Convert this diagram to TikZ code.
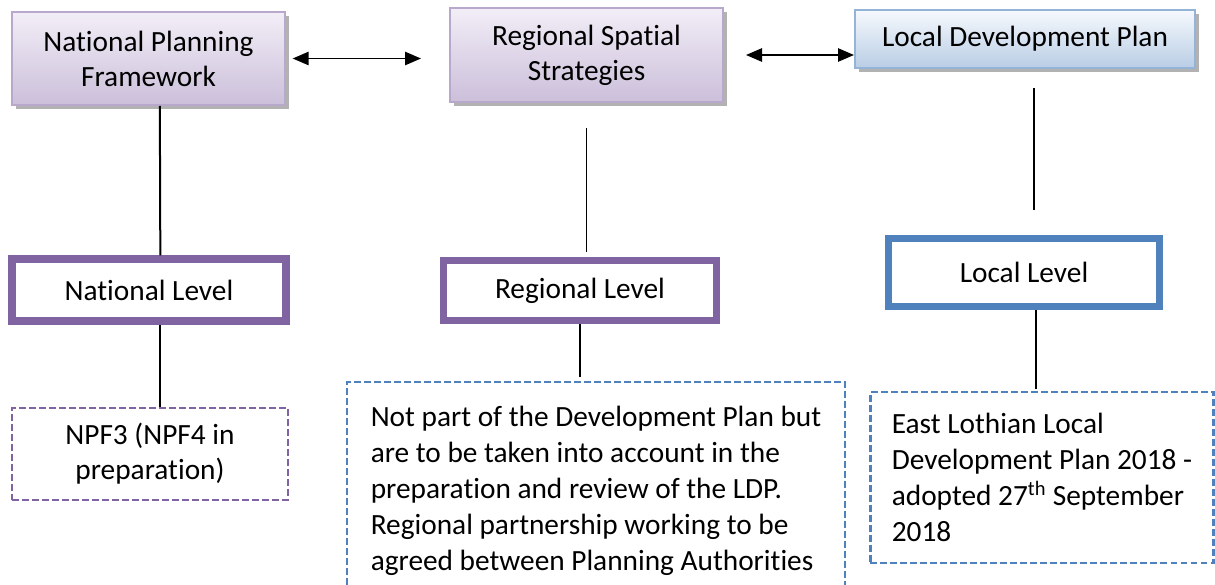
\documentclass[tikz,border=0pt]{standalone}
\usepackage{fontspec}
\setmainfont{Carlito}[Ligatures={CommonOff}]
\usetikzlibrary{arrows.meta,shadows}

\definecolor{lvpurple}{RGB}{128,100,162}
\definecolor{lvblue}{RGB}{79,129,189}
\definecolor{pbdraw}{RGB}{184,168,204}
\definecolor{pbtop}{RGB}{242,238,247}
\definecolor{pbbottom}{RGB}{203,191,218}
\definecolor{bbdraw}{RGB}{149,179,215}
\definecolor{bbtop}{RGB}{246,249,253}
\definecolor{bbbottom}{RGB}{185,205,229}

\tikzset{
  plantext/.style={font=\fontsize{22}{26.25}\selectfont},
  planbox/.style={plantext, draw=pbdraw, line width=1.5pt, top color=pbtop, bottom color=pbbottom,
    drop shadow={shadow xshift=3pt, shadow yshift=-3pt, fill=black!30, opacity=1}, align=center, inner sep=0pt},
  ldpbox/.style={planbox, draw=bbdraw, top color=bbtop, bottom color=bbbottom},
  levelbox/.style={plantext, draw=#1, line width=5.5pt, fill=white, inner sep=0pt},
  notebox/.style={plantext, draw=#1, line width=2pt, dash pattern=on 5pt off 2.5pt, fill=white, align=left, inner xsep=16pt},
  planarrow/.style={<->, >={Triangle[length=12pt,width=10pt]}, line width=1.2pt},
}

\begin{document}
\begin{tikzpicture}[x=0.75pt,y=0.75pt,yscale=-1,xscale=1]
\useasboundingbox (0,0) rectangle (1215,585);
\clip (0,0) rectangle (1215,585);
% Plan boxes
\node [planbox, minimum width=204.75pt, minimum height=69.75pt] (npf) at (148.5,58.5) {National Planning\\Framework};
\node [planbox, minimum width=204.75pt, minimum height=70.5pt] (rss) at (586.5,55) {Regional Spatial\\Strategies};
\node [ldpbox, minimum width=255pt, minimum height=43.5pt] (ldp) at (1025,39) {Local Development Plan};
% Level boxes
\node [levelbox=lvpurple, minimum width=205.5pt, minimum height=46.5pt] (natlev) at (149,290) {National Level};
\node [levelbox=lvpurple, minimum width=204.75pt, minimum height=45pt] (reglev) at (580,290.5) {Regional Level};
\node [levelbox=lvblue, minimum width=203.25pt, minimum height=51pt] (loclev) at (1024,272.5) {Local Level};
% Note boxes
\node [notebox=lvpurple, align=center, minimum width=207pt, minimum height=69pt] (npfnote) at (150,454) {NPF3 (NPF4 in\\preparation)};
\node [notebox=lvblue, minimum width=373.5pt, minimum height=163.5pt, font=\fontsize{22}{27}\selectfont] (regnote) at (596,491)
  {Not part of the Development Plan but\\are to be taken into account in the\\preparation and review of the LDP.\\Regional partnership working to be\\agreed between Planning Authorities};
\node [notebox=lvblue, minimum width=256.5pt, minimum height=128.25pt, font=\fontsize{22}{27}\selectfont] (locnote) at (1042,477.5)
  {East Lothian Local\\Development Plan 2018 -\\adopted 27\textsuperscript{th} September\\2018};

% Arrows between plans
\draw [planarrow, shorten <=5pt, shorten >=21pt] (npf.east) -- (npf.east -| rss.west);
\draw [planarrow, shorten <=16.5pt] (rss.east) -- (rss.east -| ldp.west);
% Links to levels
\draw [line width=1.5pt] ([xshift=8.5pt]npf.south) -- ([xshift=8.5pt]natlev.north);
\draw [line width=1pt, shorten <=18.75pt, shorten >=4pt] (rss.south) -- (rss.south |- reglev.north);
\draw [line width=1pt, shorten <=14.25pt, shorten >=19pt] ([xshift=6.75pt]ldp.south) -- ([xshift=6.75pt]ldp.south |- loclev.north);
% Links to notes
\draw [line width=1pt] ([xshift=8.25pt]natlev.south) -- ([xshift=8.25pt]natlev.south |- npfnote.north);
\draw [line width=1pt, shorten >=3pt] (reglev.south) -- (reglev.south |- regnote.north);
\draw [line width=1pt, shorten >=1.5pt] ([xshift=9pt]loclev.south) -- ([xshift=9pt]loclev.south |- locnote.north);
\end{tikzpicture}
\end{document}
